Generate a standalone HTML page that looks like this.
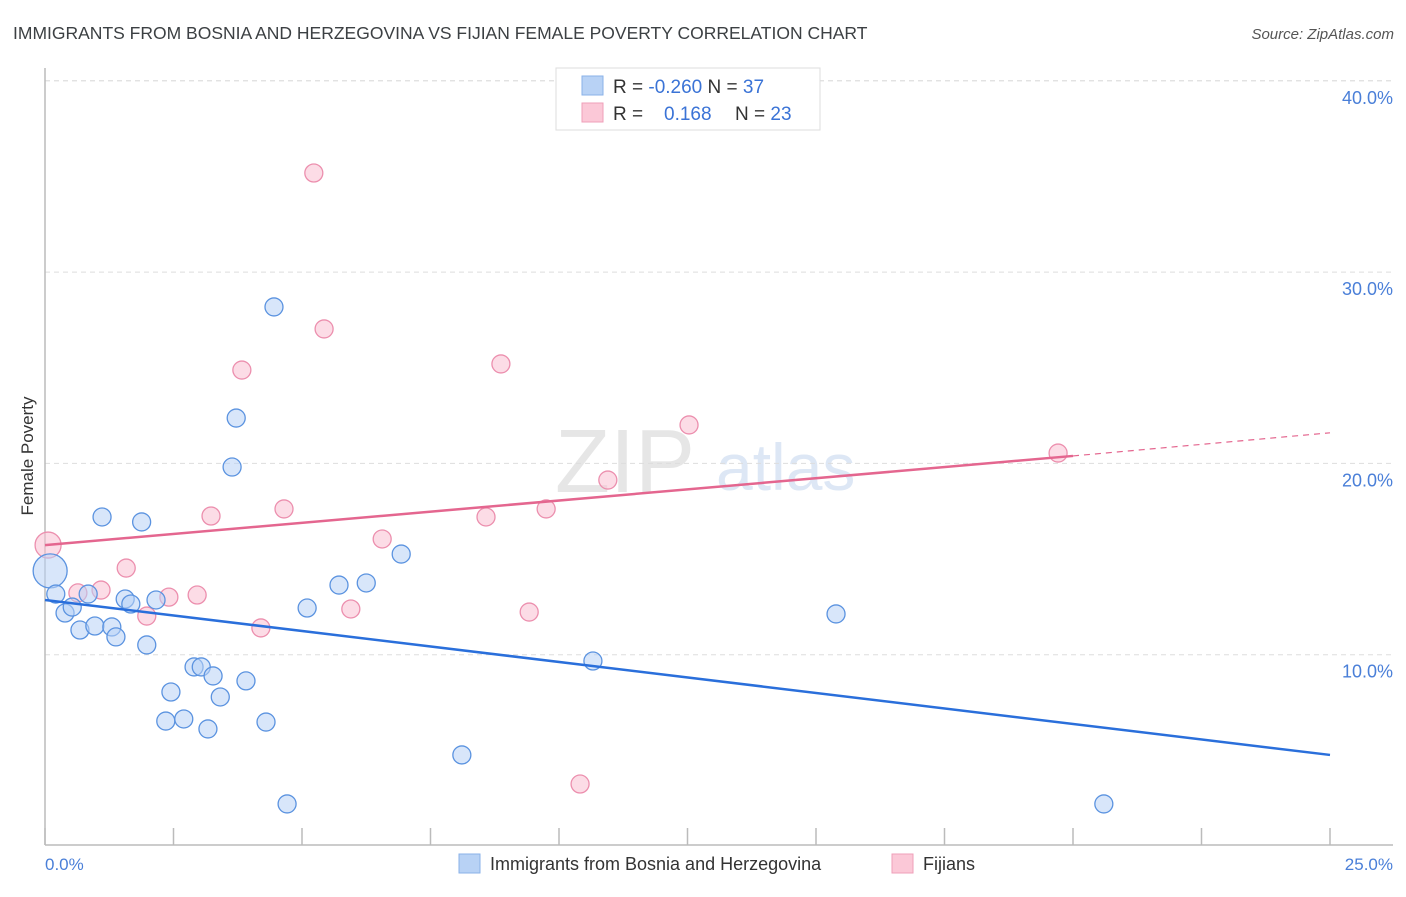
<!DOCTYPE html>
<html><head><meta charset="utf-8"><style>
body{margin:0;background:#fff;font-family:"Liberation Sans",sans-serif;}
svg text{font-family:"Liberation Sans",sans-serif;}
</style></head><body>
<svg id="chart" width="1406" height="892" viewBox="0 0 1406 892" xmlns="http://www.w3.org/2000/svg">
<text x="13" y="39" font-size="17.5" fill="#3c4043">IMMIGRANTS FROM BOSNIA AND HERZEGOVINA VS FIJIAN FEMALE POVERTY CORRELATION CHART</text>
<text x="1394" y="39" font-size="15" fill="#555" text-anchor="end" font-style="italic">Source: ZipAtlas.com</text>
<text x="555" y="492" font-size="90" fill="#e6e6e6" font-family="Liberation Serif">ZIP</text>
<text x="716" y="490" font-size="66" fill="#dde7f5">atlas</text>
<g id="grid"></g>
<line x1="45" y1="68" x2="45" y2="845" stroke="#bbb" stroke-width="1.5"/>
<line x1="45" y1="845" x2="1393" y2="845" stroke="#bbb" stroke-width="1.5"/>
<g id="ticks"></g>
<g id="ylabels"></g>
<text transform="translate(33,456) rotate(-90)" font-size="17" fill="#333" text-anchor="middle">Female Poverty</text>
<text x="45" y="870" font-size="17" fill="#4a7fd8">0.0%</text>
<text x="1393" y="870" font-size="17" fill="#4a7fd8" text-anchor="end">25.0%</text>
<g id="pts"></g>
<g id="lines"></g>
<g>
<rect x="556" y="68" width="264" height="62" fill="#fff" stroke="#ddd"/>
<rect x="582" y="76" width="21" height="19" fill="#b8d2f5" stroke="#8ab2e8"/>
<rect x="582" y="103" width="21" height="19" fill="#fbc8d7" stroke="#ef9fb8"/>
<text x="613" y="93" font-size="19" fill="#333">R = <tspan fill="#3a73d6">-0.260</tspan>   N = <tspan fill="#3a73d6">37</tspan></text>
<text x="613" y="120" font-size="19" fill="#333">R = <tspan fill="#3a73d6" x="664">0.168</tspan><tspan x="735">N = </tspan><tspan fill="#3a73d6">23</tspan></text>
</g>
<g>
<rect x="459" y="854" width="21" height="19" fill="#b8d2f5" stroke="#8ab2e8"/>
<text x="490" y="870" font-size="18" fill="#333">Immigrants from Bosnia and Herzegovina</text>
<rect x="892" y="854" width="21" height="19" fill="#fbc8d7" stroke="#ef9fb8"/>
<text x="923" y="870" font-size="18" fill="#333">Fijians</text>
</g>
</svg>
<script>
const xTicks=[0,2.5,5,7.5,10,12.5,15,17.5,20,22.5,25];
const yTicks=[10,20,30,40];
const yTickLabels=["10.0%","20.0%","30.0%","40.0%"];
const blueX=[0.1,0.21,0.39,0.53,0.68,0.84,0.97,1.11,1.3,1.38,1.56,1.67,1.88,1.98,2.16,2.35,2.45,2.7,2.9,3.04,3.17,3.27,3.41,3.64,3.72,3.91,4.3,4.455,4.71,5.1,5.72,6.25,6.93,8.11,10.66,15.39,20.6];
const blueY=[14.38,13.17,12.18,12.49,11.29,13.17,11.5,17.2,11.45,10.93,12.91,12.65,16.94,10.51,12.86,6.53,8.05,6.64,9.36,9.36,6.12,8.89,7.79,19.81,22.37,8.63,6.48,28.18,2.2,12.44,13.64,13.75,15.26,4.76,9.67,12.13,2.2];
const pinkX=[0.06,0.64,1.09,1.58,1.98,2.41,2.96,3.23,3.83,4.2,4.65,5.23,5.43,5.95,6.56,8.58,8.87,9.42,9.75,10.41,10.95,12.53,19.71];
const pinkY=[15.73,13.23,13.38,14.53,12.02,13.01,13.12,17.25,24.88,11.4,17.62,35.18,27.03,12.39,16.05,17.2,25.2,12.23,17.62,3.24,19.13,22.01,20.54];
const blueTrend=[[0,12.86],[25,4.76]];
const pinkTrend=[[0,15.73],[20,20.39]];
const pinkTrendExt=[[20,20.39],[25,21.6]];
const NS="http://www.w3.org/2000/svg";
const xs=v=>45+v*51.4, ys=v=>846-v*19.13;
function mk(tag,attrs,parent){const e=document.createElementNS(NS,tag);for(const k in attrs)e.setAttribute(k,attrs[k]);document.getElementById(parent).appendChild(e);return e;}
yTicks.forEach((t,i)=>{
 const g=mk('line',{x1:45,x2:1393,y1:ys(t),y2:ys(t),stroke:'#ddd','stroke-dasharray':'5,4'},'grid');
 
 
 const l=mk('text',{x:1393,y:ys(t)+23,'font-size':18,fill:'#4a7fd8','text-anchor':'end'},'ylabels');
 l.textContent=yTickLabels[i];
 
 
});
const g40=mk('line',{x1:45,x2:1393,y1:ys(40),y2:ys(40),stroke:'#ddd','stroke-dasharray':'5,4'},'grid');
xTicks.forEach(t=>{
 const k=mk('line',{x1:xs(t),x2:xs(t),y1:828,y2:845,stroke:'#bbb','stroke-width':1.5},'ticks');
 
 
});
function dots(X,Y,fill,stroke,name,bigR){
 X.forEach((x,i)=>{
  const r=i===0?bigR:9;
  const c=mk('circle',{cx:xs(x),cy:ys(Y[i]),r:r,fill:fill,'fill-opacity':0.55,stroke:stroke,'stroke-width':1.3},'pts');
  
  
 });
}
dots(pinkX,pinkY,'#f9c0d2','#ec8fae','fijian-point',13);
dots(blueX,blueY,'#b8d2f5','#5b93e0','bosnia-point',17);
function line(p,color,name,dash){
 const l=mk('line',{x1:xs(p[0][0]),y1:ys(p[0][1]),x2:xs(p[1][0]),y2:ys(p[1][1]),stroke:color,'stroke-width':dash?1.2:2.5},'lines');
 if(dash)l.setAttribute('stroke-dasharray','6,5');
 
 
}
line(blueTrend,'#2a6fdb','bosnia-trend-line');
line(pinkTrend,'#e4668f','fijian-trend-line');
line(pinkTrendExt,'#e4668f','fijian-trend-extension',true);
</script>
</body></html>
